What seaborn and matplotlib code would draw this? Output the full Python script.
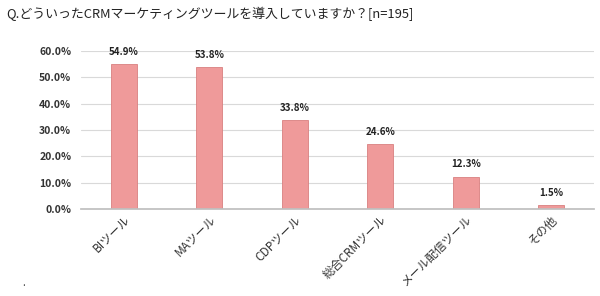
import matplotlib
matplotlib.use("Agg")
import matplotlib.pyplot as plt
import seaborn as sns
import pandas as pd

categories = ["BIツール", "MAツール", "CDPツール", "総合CRMツール", "メール配信ツール", "その他"]
values = [54.9, 53.8, 33.8, 24.6, 12.3, 1.5]
yticks = [0, 10, 20, 30, 40, 50, 60]
title = "Q.どういったCRMマーケティングツールを導入していますか？[n=195]"

sns.set_theme(style="white")
plt.rcParams['font.family'] = ['Noto Sans CJK JP', 'DejaVu Sans']

df = pd.DataFrame({"cat": categories, "val": values})
fig = plt.figure(figsize=(6.0, 2.96), dpi=100)
ax = fig.add_axes([81/600, 1-209/296, (594-81)/600, (209-51)/296])
sns.barplot(data=df, x="cat", y="val", ax=ax, color="#EF9A9A", width=0.3,
            edgecolor="#D98080", linewidth=0.6, saturation=1)
ax.set_ylim(0, 60)
ax.set_xlim(-0.5, len(categories) - 0.5)
ax.set_yticks(yticks)
ax.set_yticklabels([f"{t:.1f}%" for t in yticks], fontsize=7.5, color="#333333",
                   fontweight="bold")
ax.yaxis.grid(True, color="#D9D9D9", linewidth=0.8)
ax.set_axisbelow(True)
for s in ["left", "right", "top"]:
    ax.spines[s].set_visible(False)
ax.spines["bottom"].set_color("#BFBFBF")
ax.tick_params(axis="y", length=0, pad=7)
ax.tick_params(axis="x", length=0, pad=3)
ax.set_xticks(range(len(categories)))
ax.set_xticklabels(categories, rotation=45, ha="right", rotation_mode="anchor",
                   fontsize=8.5, color="#333333")
ax.set_xlabel("")
ax.set_ylabel("")
for i, v in enumerate(values):
    ax.text(i, v + 2.8, f"{v:.1f}%", ha="center", va="bottom", fontsize=7,
            fontweight="bold", color="#222222")
fig.text(6/600, 1-14/296, title, fontsize=9.3, va="center", ha="left", color="#222222")
fig.text(22/600, 1-283/296, ".", fontsize=7, va="center", ha="left", color="#333333")
fig.savefig("out.png", dpi=100, facecolor="white")
